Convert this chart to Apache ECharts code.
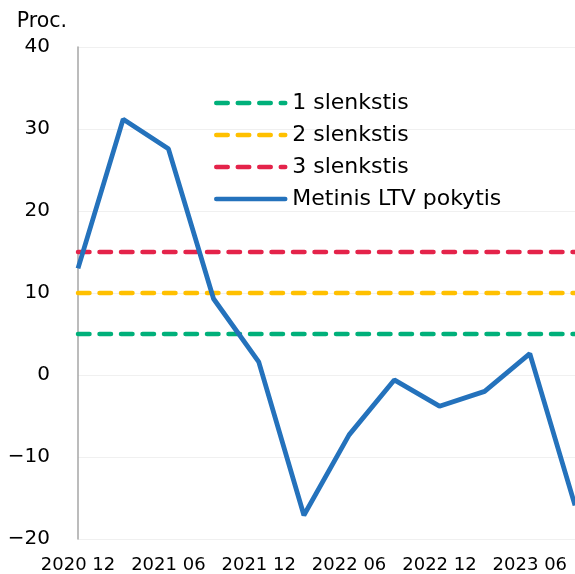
<!DOCTYPE html>
<html lang="lt">
<head>
    <meta charset="UTF-8">
    <title>Metinis LTV pokytis</title>
    <script src="https://cdn.jsdelivr.net/npm/echarts@6/dist/echarts.min.js"></script>
    <style>
        body { margin: 0; background: #ffffff; }
        #chart { width: 575px; height: 574px; }
    </style>
</head>
<body>
<div id="chart"></div>
<script>
    // duomenys
    var quarters = ['2020 12', '2021 03', '2021 06', '2021 09', '2021 12', '2022 03',
        '2022 06', '2022 09', '2022 12', '2023 03', '2023 06', '2023 09'];
    var ltvChange = [13.0, 31.2, 27.6, 9.3, 1.6, -17.1, -7.3, -0.6, -3.8, -2.0, 2.6, -15.9];
    var threshold1 = [5, 5, 5, 5, 5, 5, 5, 5, 5, 5, 5, 5];
    var threshold2 = [10, 10, 10, 10, 10, 10, 10, 10, 10, 10, 10, 10];
    var threshold3 = [15, 15, 15, 15, 15, 15, 15, 15, 15, 15, 15, 15];

    var font = 'DejaVu Sans, Verdana, sans-serif';
    var chart = echarts.init(document.getElementById('chart'));

    // slenksčio linija (brūkšninė)
    function dashed(name, data, color) {
        return {
            name: name,
            type: 'line',
            data: data,
            symbol: 'none',
            silent: true,
            lineStyle: { color: color, width: 4.5, type: [11.5, 10], cap: 'round' },
            itemStyle: { color: color }
        };
    }

    var option = {
        animation: false,
        textStyle: { fontFamily: font },
        grid: { left: 78, right: 0, top: 47, bottom: 35 },
        legend: {
            orient: 'vertical',
            left: 209,
            top: 87,
            itemWidth: 69,
            itemHeight: 14,
            itemGap: 10,
            itemStyle: { opacity: 0 },
            lineStyle: { width: 4.5, cap: 'round' },
            textStyle: { fontFamily: font, fontSize: 22, color: '#000000', padding: [0, 0, 0, 2] },
            data: ['1 slenkstis', '2 slenkstis', '3 slenkstis', 'Metinis LTV pokytis']
        },
        xAxis: {
            type: 'category',
            data: quarters,
            boundaryGap: false,
            axisLine: { show: false },
            axisTick: { show: false },
            axisLabel: { interval: 1, margin: 17, fontSize: 18, color: '#000000', fontFamily: font }
        },
        yAxis: {
            type: 'value',
            min: -20,
            max: 40,
            interval: 10,
            name: 'Proc.',
            nameLocation: 'end',
            nameGap: 15,
            nameTextStyle: { fontSize: 20.5, color: '#000000', align: 'right', padding: [0, 11, 0, 0], fontFamily: font },
            axisLine: { show: true, lineStyle: { color: '#a6a6a6', width: 1.5 } },
            axisTick: { show: false },
            splitLine: { lineStyle: { color: '#f0f0f0', width: 1 } },
            axisLabel: {
                margin: 28,
                fontSize: 20,
                color: '#000000',
                fontFamily: font,
                formatter: function (v) { return String(v).replace('-', '\u2212'); }
            }
        },
        series: [
            dashed('1 slenkstis', threshold1, '#00b07a'),
            dashed('2 slenkstis', threshold2, '#ffc000'),
            dashed('3 slenkstis', threshold3, '#e4234a'),
            {
                name: 'Metinis LTV pokytis',
                type: 'line',
                data: ltvChange,
                symbol: 'none',
                lineStyle: { color: '#2472bc', width: 4.8 },
                itemStyle: { color: '#2472bc' }
            }
        ]
    };

    chart.setOption(option);
</script>
</body>
</html>
